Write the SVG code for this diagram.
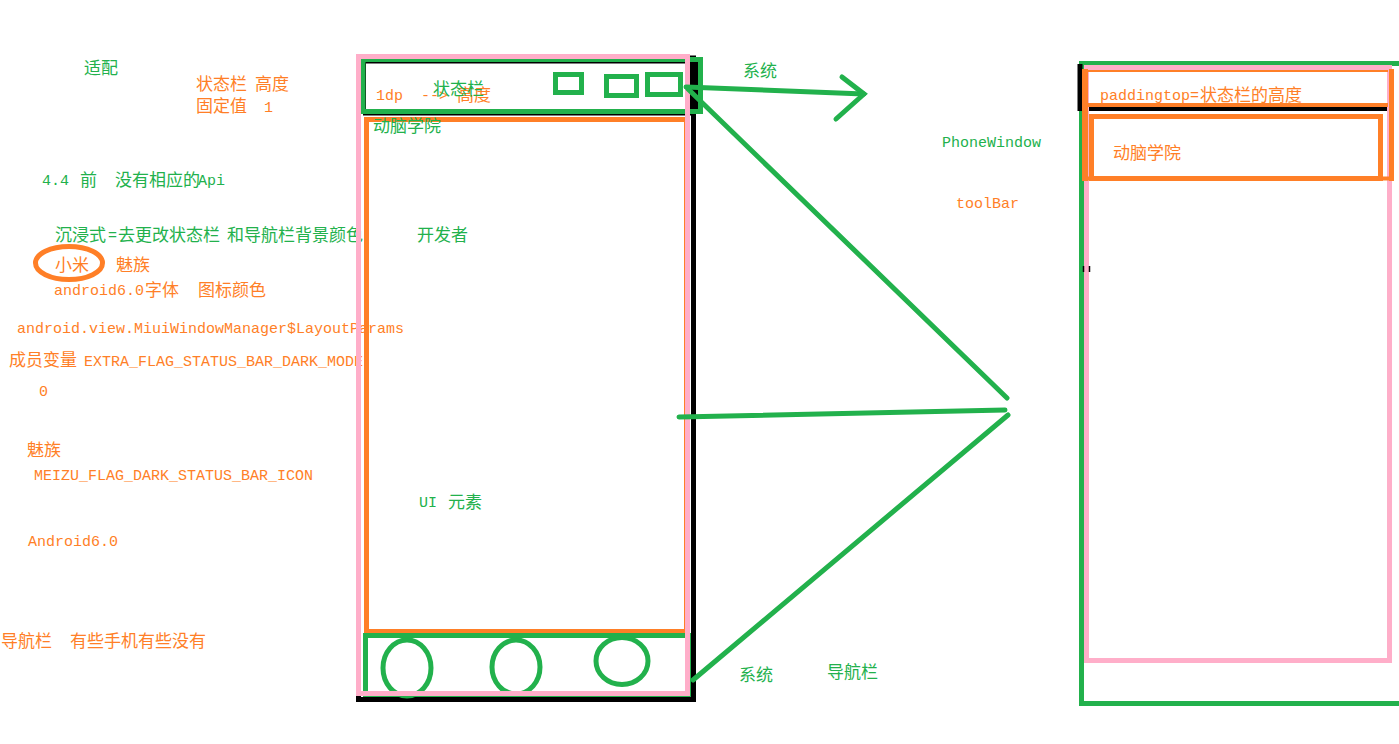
<svg xmlns="http://www.w3.org/2000/svg" width="1399" height="744" viewBox="0 0 1399 744">
<style>
.g{fill:#22b14c}
.o{fill:#ff7f27}
.m{font-family:"Liberation Mono","DejaVu Sans Mono",monospace;font-size:15px}
.k{font-family:"Noto Sans CJK SC","Noto Sans CJK JP",sans-serif;font-size:17px}
.sg{fill:none;stroke:#22b14c;stroke-width:5}
.so{fill:none;stroke:#ff7f27;stroke-width:5}
.sp{fill:none;stroke:#ffaec9;stroke-width:5}
.sk{fill:none;stroke:#000;stroke-width:5}
.ln{fill:none;stroke:#22b14c;stroke-width:5;stroke-linecap:round}
</style>
<rect width="1399" height="744" fill="#fff"/>

<g id="notes">
<text class="k g" x="84" y="74">适配</text>
<text class="k o" x="196" y="90">状态栏</text><text class="k o" x="255" y="90">高度</text>
<text class="k o" x="196" y="112">固定值</text><text class="m o" x="264" y="112">1</text>
<text class="m g" x="42" y="185">4.4</text><text class="k g" x="80" y="186">前</text><text class="k g" x="115" y="186">没有相应的</text><text class="m g" x="198" y="185">Api</text>
<text class="k g" x="55" y="241">沉浸式</text><text class="m g" x="108" y="240">=</text><text class="k g" x="118" y="241">去更改状态栏</text><text class="k g" x="227" y="241">和导航栏背景颜色</text>
<text class="k o" x="55" y="271">小米</text><text class="k o" x="116" y="271">魅族</text>
<text class="m o" x="54" y="295">android6.0</text><text class="k o" x="145" y="296">字体</text><text class="k o" x="198" y="296">图标颜色</text>
<text class="m o" x="17" y="333">android.view.MiuiWindowManager$LayoutParams</text>
<text class="k o" x="9" y="366">成员变量</text><text class="m o" x="84" y="366">EXTRA_FLAG_STATUS_BAR_DARK_MODE</text>
<text class="m o" x="39" y="396">0</text>
<text class="k o" x="27" y="456">魅族</text>
<text class="m o" x="34" y="480">MEIZU_FLAG_DARK_STATUS_BAR_ICON</text>
<text class="m o" x="28" y="546">Android6.0</text>
<text class="k o" x="1" y="647">导航栏</text><text class="k o" x="70" y="647">有些手机有些没有</text>
<ellipse cx="69" cy="263" rx="33.5" ry="16.5" class="so"/>
</g>

<g id="phone-left">
<rect x="358.5" y="58" width="335" height="641.5" class="sk"/>
<rect x="364.5" y="62" width="329" height="52" fill="none" stroke="#000" stroke-width="3"/>
<rect x="690" y="62" width="8" height="51" fill="#000"/>
<rect x="363" y="59.5" width="337.5" height="52" class="sg"/>
<rect x="555.5" y="74.5" width="26" height="18" class="sg"/>
<rect x="606.5" y="76.5" width="30" height="19" class="sg"/>
<rect x="647.5" y="74.5" width="33" height="20" class="sg"/>
<rect x="366.5" y="119.5" width="320" height="512" class="so"/>
<rect x="365.5" y="635.5" width="323" height="59" class="sg"/>
<ellipse cx="407" cy="668" rx="24" ry="28" class="sg"/>
<ellipse cx="516" cy="667" rx="24" ry="27" class="sg"/>
<ellipse cx="622" cy="661" rx="26" ry="23.5" class="sg"/>
<rect x="358.5" y="56.5" width="329" height="637" class="sp"/>
<text class="m o" x="376" y="100">1dp</text><text class="m o" x="421" y="100">--&gt;</text><text class="k o" x="457" y="101">高度</text>
<text class="k g" x="433" y="95">状态栏</text>
<text class="k g" x="373" y="132">动脑学院</text>
<text class="k g" x="417" y="241">开发者</text>
<text class="m g" x="419" y="507">UI</text><text class="k g" x="448" y="508">元素</text>
</g>

<g id="connectors">
<polyline points="686,87 864,94" class="ln"/>
<polyline points="842,77 864,94 836,119" class="ln"/>
<polyline points="688,89 1007,398" class="ln"/>
<polyline points="679,417 1005,410" class="ln"/>
<polyline points="1008,415 693,680" class="ln"/>
</g>

<g id="labels-mid">
<text class="k g" x="743" y="77">系统</text>
<text class="m g" x="942" y="147">PhoneWindow</text>
<text class="m o" x="956" y="208">toolBar</text>
<text class="k g" x="739" y="681">系统</text>
<text class="k g" x="827" y="678">导航栏</text>
</g>

<g id="phone-right">
<rect x="1081.5" y="63.5" width="1315" height="640" class="sg"/>
<path d="M1080,64 V108.5 H1388" fill="none" stroke="#000" stroke-width="5"/>
<rect x="1086.5" y="67.5" width="303" height="593" class="sp"/>
<rect x="1082" y="69" width="6" height="112" fill="#ff7f27"/>
<rect x="1389" y="69" width="5" height="112" fill="#ff7f27"/>
<line x1="1088" y1="71" x2="1388" y2="71" stroke="#ff7f27" stroke-width="2"/>
<line x1="1088" y1="105" x2="1388" y2="105" stroke="#ff7f27" stroke-width="4"/>
<line x1="1085" y1="178.5" x2="1392" y2="178.5" stroke="#ff7f27" stroke-width="4"/>
<rect x="1091.5" y="116.5" width="289" height="62" class="so"/>
<line x1="1083.5" y1="266" x2="1083.5" y2="272" stroke="#000" stroke-width="1.5"/>
<line x1="1089.5" y1="266" x2="1089.5" y2="272" stroke="#000" stroke-width="1.5"/>
<text class="m o" x="1100" y="100">paddingtop=</text><text class="k o" x="1200" y="101">状态栏的高度</text>
<text class="k o" x="1113" y="159">动脑学院</text>
</g>
</svg>
